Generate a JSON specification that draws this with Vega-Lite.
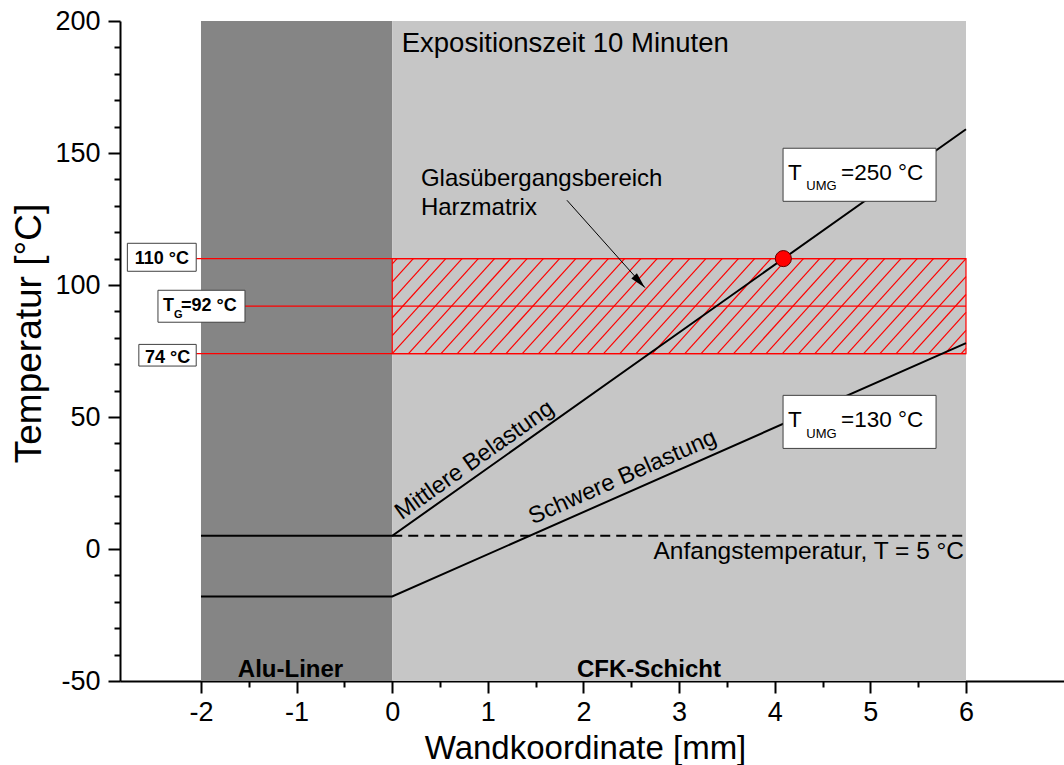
{
  "$schema": "https://vega.github.io/schema/vega-lite/v6.json",
  "width": 944,
  "height": 660,
  "autosize": {"type": "none"},
  "padding": {"left": 120, "top": 21, "right": 0, "bottom": 84},
  "background": "white",
  "config": {
    "view": {"stroke": null},
    "font": "Liberation Sans",
    "text": {"font": "Liberation Sans", "color": "black"},
    "axis": {"grid": false, "domainColor": "black", "tickColor": "black", "labelColor": "black", "titleColor": "black", "domainWidth": 2, "tickWidth": 2, "labelFont": "Liberation Sans", "titleFont": "Liberation Sans", "titleFontWeight": "normal", "zindex": 1}
  },
  "layer": [
    {
      "layer": [
        {
          "data": {"values": [{"zone": "Alu-Liner", "from": -2, "to": 0}, {"zone": "CFK-Schicht", "from": 0, "to": 6}]},
          "mark": {"type": "rect"},
          "encoding": {
            "x": {"field": "from", "type": "quantitative", "scale": {"domain": [-2.847, 7.025], "nice": false, "zero": false},
              "axis": {"values": [-2, -1, 0, 1, 2, 3, 4, 5, 6], "tickSize": 12, "labelFontSize": 27, "labelPadding": 6, "labelExpr": "'' + datum.value", "title": "Wandkoordinate [mm]", "titleFontSize": 33, "titleX": 465, "titleY": 77, "titleBaseline": "alphabetic", "titleAlign": "center"}},
            "x2": {"field": "to"},
            "y": {"datum": -50, "type": "quantitative", "scale": {"domain": [-50, 200], "nice": false, "zero": false},
              "axis": {"values": [-50, 0, 50, 100, 150, 200], "tickSize": 12, "labelFontSize": 27, "labelPadding": 8, "labelExpr": "'' + datum.value", "title": "Temperatur [°C]", "titleFontSize": 37, "titleAngle": 270, "titleX": -80, "titleY": 312, "titleBaseline": "alphabetic", "titleAlign": "center"}},
            "y2": {"datum": 200},
            "color": {"field": "zone", "type": "nominal", "scale": {"domain": ["Alu-Liner", "CFK-Schicht"], "range": ["#858585", "#c6c6c6"]}, "legend": null}
          }
        },
        {
          "data": {"values": [{"lvl": "110 °C", "from": -2.05, "to": 6, "T": 110}, {"lvl": "TG=92 °C", "from": -1.54, "to": 6, "T": 92}, {"lvl": "74 °C", "from": -2.05, "to": 6, "T": 74}]},
          "mark": {"type": "rule", "color": "#ff0000", "strokeWidth": 1.2},
          "encoding": {"x": {"field": "from", "type": "quantitative"}, "x2": {"field": "to"}, "y": {"field": "T", "type": "quantitative"}}
        },
        {
          "data": {"values": [
            {"hx": 0, "hy": 108, "hx2": 0.05, "hy2": 110},
            {"hx": 0, "hy": 101.2, "hx2": 0.22, "hy2": 110},
            {"hx": 0, "hy": 94.4, "hx2": 0.39, "hy2": 110},
            {"hx": 0, "hy": 87.6, "hx2": 0.56, "hy2": 110},
            {"hx": 0, "hy": 80.8, "hx2": 0.73, "hy2": 110},
            {"hx": 0, "hy": 74, "hx2": 0.9, "hy2": 110},
            {"hx": 0.17, "hy": 74, "hx2": 1.07, "hy2": 110},
            {"hx": 0.34, "hy": 74, "hx2": 1.24, "hy2": 110},
            {"hx": 0.51, "hy": 74, "hx2": 1.41, "hy2": 110},
            {"hx": 0.68, "hy": 74, "hx2": 1.58, "hy2": 110},
            {"hx": 0.85, "hy": 74, "hx2": 1.75, "hy2": 110},
            {"hx": 1.02, "hy": 74, "hx2": 1.92, "hy2": 110},
            {"hx": 1.19, "hy": 74, "hx2": 2.09, "hy2": 110},
            {"hx": 1.36, "hy": 74, "hx2": 2.26, "hy2": 110},
            {"hx": 1.53, "hy": 74, "hx2": 2.43, "hy2": 110},
            {"hx": 1.7, "hy": 74, "hx2": 2.6, "hy2": 110},
            {"hx": 1.87, "hy": 74, "hx2": 2.77, "hy2": 110},
            {"hx": 2.04, "hy": 74, "hx2": 2.94, "hy2": 110},
            {"hx": 2.21, "hy": 74, "hx2": 3.11, "hy2": 110},
            {"hx": 2.38, "hy": 74, "hx2": 3.28, "hy2": 110},
            {"hx": 2.55, "hy": 74, "hx2": 3.45, "hy2": 110},
            {"hx": 2.72, "hy": 74, "hx2": 3.62, "hy2": 110},
            {"hx": 2.89, "hy": 74, "hx2": 3.79, "hy2": 110},
            {"hx": 3.06, "hy": 74, "hx2": 3.96, "hy2": 110},
            {"hx": 3.23, "hy": 74, "hx2": 4.13, "hy2": 110},
            {"hx": 3.4, "hy": 74, "hx2": 4.3, "hy2": 110},
            {"hx": 3.57, "hy": 74, "hx2": 4.47, "hy2": 110},
            {"hx": 3.74, "hy": 74, "hx2": 4.64, "hy2": 110},
            {"hx": 3.91, "hy": 74, "hx2": 4.81, "hy2": 110},
            {"hx": 4.08, "hy": 74, "hx2": 4.98, "hy2": 110},
            {"hx": 4.25, "hy": 74, "hx2": 5.15, "hy2": 110},
            {"hx": 4.42, "hy": 74, "hx2": 5.32, "hy2": 110},
            {"hx": 4.59, "hy": 74, "hx2": 5.49, "hy2": 110},
            {"hx": 4.76, "hy": 74, "hx2": 5.66, "hy2": 110},
            {"hx": 4.93, "hy": 74, "hx2": 5.83, "hy2": 110},
            {"hx": 5.1, "hy": 74, "hx2": 6, "hy2": 110},
            {"hx": 5.27, "hy": 74, "hx2": 6, "hy2": 103.2},
            {"hx": 5.44, "hy": 74, "hx2": 6, "hy2": 96.4},
            {"hx": 5.61, "hy": 74, "hx2": 6, "hy2": 89.6},
            {"hx": 5.78, "hy": 74, "hx2": 6, "hy2": 82.8},
            {"hx": 5.95, "hy": 74, "hx2": 6, "hy2": 76}
          ]},
          "mark": {"type": "rule", "color": "#ff0000", "strokeWidth": 1.2},
          "encoding": {"x": {"field": "hx", "type": "quantitative"}, "y": {"field": "hy", "type": "quantitative"}, "x2": {"field": "hx2"}, "y2": {"field": "hy2"}}
        },
        {
          "data": {"values": [{"band": "Glasübergangsbereich", "x0": 0, "x1": 6, "lo": 74, "hi": 110}]},
          "mark": {"type": "rect", "filled": false, "color": "#ff0000", "strokeWidth": 1.2},
          "encoding": {"x": {"field": "x0", "type": "quantitative"}, "x2": {"field": "x1"}, "y": {"field": "lo", "type": "quantitative"}, "y2": {"field": "hi"}}
        },
        {
          "data": {"values": [{"x": 0, "T": 5}, {"x": 6, "T": 5}]},
          "mark": {"type": "line", "color": "black", "strokeWidth": 2, "strokeDash": [10, 6]},
          "encoding": {"x": {"field": "x", "type": "quantitative"}, "y": {"field": "T", "type": "quantitative"}}
        },
        {
          "data": {"values": [
            {"load": "Mittlere Belastung", "x": -2, "T": 5},
            {"load": "Mittlere Belastung", "x": 0, "T": 5},
            {"load": "Mittlere Belastung", "x": 6, "T": 159},
            {"load": "Schwere Belastung", "x": -2, "T": -18},
            {"load": "Schwere Belastung", "x": 0, "T": -18},
            {"load": "Schwere Belastung", "x": 6, "T": 78}
          ]},
          "mark": {"type": "line", "color": "black", "strokeWidth": 2},
          "encoding": {"x": {"field": "x", "type": "quantitative"}, "y": {"field": "T", "type": "quantitative"}, "detail": {"field": "load", "type": "nominal"}}
        },
        {
          "data": {"values": [{"x": 4.09, "T": 110}]},
          "mark": {"type": "point", "filled": true, "fill": "#ff0000", "stroke": "#600000", "strokeWidth": 1, "size": 260, "opacity": 1},
          "encoding": {"x": {"field": "x", "type": "quantitative"}, "y": {"field": "T", "type": "quantitative"}}
        },
        {
          "data": {"values": [{"x": 1.827, "T": 132.1, "x2": 2.643, "T2": 99.0}]},
          "mark": {"type": "rule", "color": "black", "strokeWidth": 1},
          "encoding": {"x": {"field": "x", "type": "quantitative"}, "y": {"field": "T", "type": "quantitative"}, "x2": {"field": "x2"}, "y2": {"field": "T2"}}
        },
        {
          "data": {"values": [{"x": 2.576, "T": 101.6}]},
          "mark": {"type": "point", "shape": "M0,-1L0.4,0.7L-0.4,0.7Z", "filled": true, "color": "black", "size": 355, "angle": 137.5, "opacity": 1},
          "encoding": {"x": {"field": "x", "type": "quantitative"}, "y": {"field": "T", "type": "quantitative"}}
        },
        {
          "data": {"values": [
            {"b": "110", "x1": -2.77, "x2": -2.05, "y1": 105.2, "y2": 115.8},
            {"b": "TG", "x1": -2.45, "x2": -1.54, "y1": 85.9, "y2": 98.0},
            {"b": "74", "x1": -2.65, "x2": -2.05, "y1": 69.3, "y2": 77.5},
            {"b": "250", "x1": 4.087, "x2": 5.687, "y1": 131.7, "y2": 151.8},
            {"b": "130", "x1": 4.087, "x2": 5.687, "y1": 38.1, "y2": 58.2}
          ]},
          "mark": {"type": "rect", "fill": "white", "stroke": "#404040", "strokeWidth": 1},
          "encoding": {"x": {"field": "x1", "type": "quantitative"}, "x2": {"field": "x2"}, "y": {"field": "y1", "type": "quantitative"}, "y2": {"field": "y2"}}
        },
        {
          "data": {"values": [{"t": "Expositionszeit 10 Minuten", "x": 0.099, "T": 188.1}]},
          "mark": {"type": "text", "align": "left", "baseline": "alphabetic", "fontSize": 27.5},
          "encoding": {"x": {"field": "x", "type": "quantitative"}, "y": {"field": "T", "type": "quantitative"}, "text": {"field": "t"}}
        },
        {
          "data": {"values": [{"t": "Glasübergangsbereich", "x": 0.3, "T": 137.5}, {"t": "Harzmatrix", "x": 0.3, "T": 126.6}]},
          "mark": {"type": "text", "align": "left", "baseline": "alphabetic", "fontSize": 24},
          "encoding": {"x": {"field": "x", "type": "quantitative"}, "y": {"field": "T", "type": "quantitative"}, "text": {"field": "t"}}
        },
        {
          "data": {"values": [{"t": "Anfangstemperatur, T = 5 °C", "x": 5.98, "T": -3.8}]},
          "mark": {"type": "text", "align": "right", "baseline": "alphabetic", "fontSize": 24.5},
          "encoding": {"x": {"field": "x", "type": "quantitative"}, "y": {"field": "T", "type": "quantitative"}, "text": {"field": "t"}}
        },
        {
          "data": {"values": [{"t": "Mittlere Belastung", "x": 0.1, "T": 10.9}]},
          "mark": {"type": "text", "align": "left", "baseline": "alphabetic", "fontSize": 23.5, "angle": 324.7},
          "encoding": {"x": {"field": "x", "type": "quantitative"}, "y": {"field": "T", "type": "quantitative"}, "text": {"field": "t"}}
        },
        {
          "data": {"values": [{"t": "Schwere Belastung", "x": 1.47, "T": 9.3}]},
          "mark": {"type": "text", "align": "left", "baseline": "alphabetic", "fontSize": 23.5, "angle": 336.2},
          "encoding": {"x": {"field": "x", "type": "quantitative"}, "y": {"field": "T", "type": "quantitative"}, "text": {"field": "t"}}
        },
        {
          "data": {"values": [{"t": "Alu-Liner", "x": -1.064, "T": -48.6}, {"t": "CFK-Schicht", "x": 2.684, "T": -48.6}]},
          "mark": {"type": "text", "align": "center", "baseline": "alphabetic", "fontSize": 24, "fontWeight": "bold"},
          "encoding": {"x": {"field": "x", "type": "quantitative"}, "y": {"field": "T", "type": "quantitative"}, "text": {"field": "t"}}
        },
        {
          "data": {"values": [{"t": "110 °C", "x": -2.41, "T": 108.0}, {"t": "74 °C", "x": -2.35, "T": 70.4}]},
          "mark": {"type": "text", "align": "center", "baseline": "alphabetic", "fontSize": 18, "fontWeight": "bold"},
          "encoding": {"x": {"field": "x", "type": "quantitative"}, "y": {"field": "T", "type": "quantitative"}, "text": {"field": "t"}}
        },
        {
          "data": {"values": [{"t": "T", "x": -2.397, "T": 90.2}, {"t": "=92 °C", "x": -2.21, "T": 90.2}]},
          "mark": {"type": "text", "align": "left", "baseline": "alphabetic", "fontSize": 18, "fontWeight": "bold"},
          "encoding": {"x": {"field": "x", "type": "quantitative"}, "y": {"field": "T", "type": "quantitative"}, "text": {"field": "t"}}
        },
        {
          "data": {"values": [{"t": "G", "x": -2.283, "T": 87.65}]},
          "mark": {"type": "text", "align": "left", "baseline": "alphabetic", "fontSize": 11, "fontWeight": "bold"},
          "encoding": {"x": {"field": "x", "type": "quantitative"}, "y": {"field": "T", "type": "quantitative"}, "text": {"field": "t"}}
        },
        {
          "data": {"values": [{"t": "T", "x": 4.139, "T": 139.9}, {"t": "=250 °C", "x": 4.693, "T": 139.9}, {"t": "T", "x": 4.139, "T": 46.2}, {"t": "=130 °C", "x": 4.693, "T": 46.2}]},
          "mark": {"type": "text", "align": "left", "baseline": "alphabetic", "fontSize": 22.5},
          "encoding": {"x": {"field": "x", "type": "quantitative"}, "y": {"field": "T", "type": "quantitative"}, "text": {"field": "t"}}
        },
        {
          "data": {"values": [{"t": "UMG", "x": 4.33, "T": 135.9}, {"t": "UMG", "x": 4.33, "T": 42.2}]},
          "mark": {"type": "text", "align": "left", "baseline": "alphabetic", "fontSize": 13},
          "encoding": {"x": {"field": "x", "type": "quantitative"}, "y": {"field": "T", "type": "quantitative"}, "text": {"field": "t"}}
        }
      ]
    },
    {
      "data": {"values": [{"m": 0}]},
      "mark": {"type": "point", "opacity": 0},
      "encoding": {
        "x": {"field": "m", "type": "quantitative", "scale": {"domain": [-2.847, 7.025], "nice": false, "zero": false},
          "axis": {"orient": "bottom", "values": [-1.5, -0.5, 0.5, 1.5, 2.5, 3.5, 4.5, 5.5], "tickSize": 6, "labels": false, "domain": false, "title": null}},
        "y": {"field": "m", "type": "quantitative", "scale": {"domain": [-50, 200], "nice": false, "zero": false},
          "axis": {"orient": "left", "values": [-40, -30, -20, -10, 10, 20, 30, 40, 60, 70, 80, 90, 110, 120, 130, 140, 160, 170, 180, 190], "tickSize": 6, "labels": false, "domain": false, "title": null}}
      }
    }
  ],
  "resolve": {"axis": {"x": "independent", "y": "independent"}}
}
